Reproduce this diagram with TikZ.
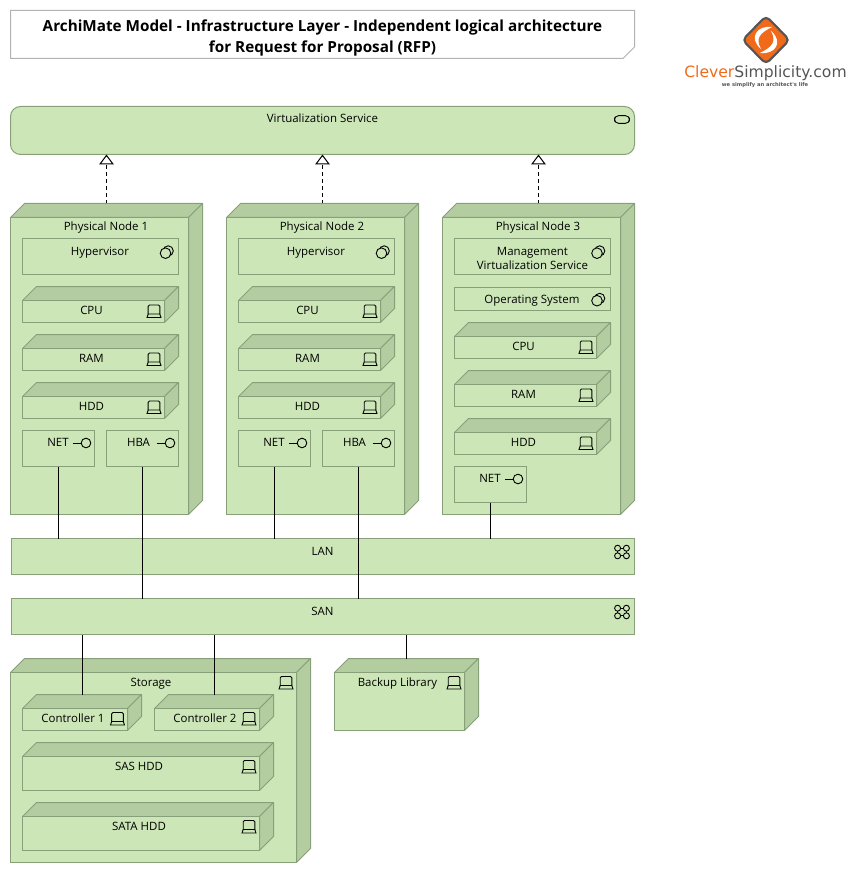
\documentclass[tikz,border=0pt]{standalone}
\usepackage{fontspec}
\setmainfont{Open Sans}
\newfontfamily\logofont{DejaVu Sans}
\usetikzlibrary{fit,arrows.meta}
\definecolor{amfill}{HTML}{CCE6B8}
\definecolor{amtop}{HTML}{B3CCA0}
\definecolor{amline}{HTML}{87A07A}
\definecolor{logoor}{HTML}{F06A1A}
\definecolor{logogr}{HTML}{555555}
\tikzset{
  face/.style={draw=amline,fill=amfill,line width=0.75pt,inner sep=0pt,outer sep=0pt},
  ghost/.style={inner sep=0pt,outer sep=0pt},
  side/.style={draw=amline,fill=amtop,line width=0.75pt,line join=round},
  lab/.style={inner sep=0pt,outer sep=0pt,font=\fontsize{8.6}{10.5}\selectfont,text=black,align=center},
  lab1/.style={lab,text height=6.4pt,text depth=0pt},
  icon/.style={draw=black,line width=0.68pt,fill=none},
  wire/.style={draw=black,line width=0.75pt},
  real/.style={draw=black,line width=0.75pt,dash pattern=on 2.6pt off 2.6pt,
    -{Triangle[open,length=7.5pt,width=11pt,fill=white]}},
  pics/laptop/.style={code={
    \draw[icon,rounded corners=0.9pt] (-5.8,3) -- (-5.8,-6) -- (5.8,-6) -- (5.8,3);
    \draw[icon] (-5.8,3) -- (5.8,3) -- (7,6.5) -- (-7,6.5) -- cycle;
  }},
  pics/syssw/.style={code={
    \draw[icon] (1.7,-1.6) circle (5.1);
    \draw[icon,fill=amfill] (-1,0.7) circle (5.3);
  }},
  pics/iface/.style={code={
    \draw[icon] (-13,0) -- (-5,0);
    \draw[icon] (0,0) circle (4.8);
  }},
  pics/svc/.style={code={
    \draw[icon,rounded corners=3pt] (-7.5,-3.8) rectangle (7.5,3.8);
  }},
  pics/netw/.style={code={
    \draw[icon] (-4.4,-3.8) -- (4.4,-3.8) -- (4.4,3.8) -- (-4.4,3.8) -- cycle;
    \foreach \a/\b in {-4.4/-3.8,4.4/-3.8,-4.4/3.8,4.4/3.8}
      \draw[icon,fill=amfill] (\a,\b) circle (3);
  }},
}
% name, x0, ytop, x1, ybot, depth : 3-D ArchiMate block
\newcommand{\block}[6]{%
  \pgfmathsetmacro{\xa}{#2+0.5}\pgfmathsetmacro{\ya}{#3+0.5}%
  \pgfmathsetmacro{\xb}{#4-0.5}\pgfmathsetmacro{\yb}{#5-0.5}%
  \pgfmathsetmacro{\xf}{\xb-#6}\pgfmathsetmacro{\yf}{\ya+#6}%
  \draw[side] (\xa,\yf) -- (\xa+#6,\ya) -- (\xb,\ya) -- (\xf,\yf) -- cycle;
  \draw[side] (\xf,\yf) -- (\xb,\ya) -- (\xb,\yb-#6) -- (\xf,\yb) -- cycle;
  \node[face,fit={(\xa,\yf)(\xf,\yb)}] (#1) {};
  \node[ghost,fit={(\xa,\ya)(\xb,\yb)}] (#1o) {};
}
\newcommand{\plain}[5]{\node[face,fit={(#2+0.5,#3+0.5)(#4-0.5,#5-0.5)}] (#1) {};}
\newcommand{\txt}[4]{\node[lab1] (#1l) at (#2,#3) {#4};}
\begin{document}
\begin{tikzpicture}[x=0.75pt,y=-0.75pt]
\path[use as bounding box] (0,0) rectangle (861,873);

% title
\draw[draw=black!30,fill=white,line width=0.75pt] (10.5,10.5) -- (634.5,10.5) -- (634.5,47) -- (623,58.5) -- (10.5,58.5) -- cycle;
\node[inner sep=0pt,font=\fontsize{11.45}{15.75}\selectfont\bfseries,align=center] (title) at (322.5,38)
  {ArchiMate Model - Infrastructure Layer - Independent logical architecture\\for Request for Proposal (RFP)};

% logo
\draw[draw=logogr,fill=logoor,line width=1.6pt,rounded corners=3.5pt] (766,16) -- (789.5,40) -- (766,64) -- (742.5,40) -- cycle;
\fill[white] (772,27) .. controls (757,25) and (748,38) .. (761,49) .. controls (755,38) and (760,33) .. (772,27) -- cycle;
\fill[white] (760,53) .. controls (775,55) and (784,42) .. (771,31) .. controls (777,42) and (772,47) .. (760,53) -- cycle;
\node[inner sep=0pt,font=\logofont\fontsize{11.7}{14}\selectfont] (logotext) at (765.5,73)
  {\textcolor{logoor}{Clever}\textcolor{logogr}{Simplicity.com}};
\node[inner sep=0pt,font=\logofont\bfseries\fontsize{3.9}{6}\selectfont,text=logogr] (logotag) at (765,85.5) {we simplify an architect's life};

% service
\node[face,rounded corners=7.5pt,fit={(10.5,106.5)(634.5,154.5)}] (svc) {};
\txt{svc}{322.5}{118.5}{Virtualization Service}
\pic at (622,119.5) {svc};

% physical nodes 1, 2
\foreach \n/\o in {1/0,2/216}{
  \block{pn\n}{10+\o}{203}{203+\o}{515}{14}
  \txt{pn\n}{106+\o}{226}{Physical Node \n}
  \plain{hv\n}{22+\o}{238}{179+\o}{275}
  \txt{hv\n}{100+\o}{251}{Hypervisor}
  \pic at (166.5+\o,252.5) {syssw};
  \foreach \nm/\y in {CPU/286,RAM/334,HDD/382}{
    \block{\nm\n}{22+\o}{\y}{179+\o}{\y+37}{14}
    \txt{\nm\n}{91.5+\o}{\y+24}{\nm}
    \pic at (154+\o,\y+25) {laptop};
  }
  \plain{net\n}{22+\o}{430}{95+\o}{467}
  \txt{net\n}{58+\o}{442}{NET}
  \pic at (86+\o,443) {iface};
  \plain{hba\n}{106+\o}{430}{179+\o}{467}
  \txt{hba\n}{138.5+\o}{442}{HBA}
  \pic at (170+\o,443) {iface};
}

% physical node 3
\block{pn3}{442}{203}{635}{515}{14}
\txt{pn3}{538}{226}{Physical Node 3}
\plain{mgmt}{454}{238}{611}{275}
\node[lab] (mgmtl) at (532.5,258) {Management\\Virtualization Service};
\pic at (598,252.5) {syssw};
\plain{os}{454}{287}{611}{311}
\txt{os}{532}{299}{Operating System}
\pic at (598,300) {syssw};
\foreach \nm/\y in {CPU/322,RAM/370,HDD/418}{
  \block{\nm3}{454}{\y}{611}{\y+37}{14}
  \txt{\nm3}{523.5}{\y+24}{\nm}
  \pic at (586,\y+25) {laptop};
}
\plain{net3}{454}{466}{527}{503}
\txt{net3}{490}{478.5}{NET}
\pic at (518,479) {iface};

% networks
\plain{lan}{11}{538}{635}{575}
\txt{lan}{322.5}{551}{LAN}
\pic at (622,552) {netw};
\plain{san}{11}{598}{635}{635}
\txt{san}{322.5}{611}{SAN}
\pic at (622,612) {netw};

% storage
\block{stor}{10}{658}{311}{863}{14}
\txt{stor}{151}{682}{Storage}
\pic at (286,682.5) {laptop};
\block{ctla}{22}{694}{142}{731}{14}
\txt{ctla}{73}{718}{Controller 1}
\pic at (117.5,718.5) {laptop};
\block{ctlb}{154}{694}{274}{731}{14}
\txt{ctlb}{205}{718}{Controller 2}
\pic at (249,718.5) {laptop};
\block{sas}{22}{742}{274}{791}{14}
\txt{sas}{139}{766}{SAS HDD}
\pic at (249,766.5) {laptop};
\block{sata}{22}{802}{274}{851}{14}
\txt{sata}{139}{826}{SATA HDD}
\pic at (249,826.5) {laptop};
\block{bak}{334}{658}{479}{731}{14}
\txt{bak}{397.5}{682}{Backup Library}
\pic at (454,682.5) {laptop};

% connectors
\foreach \a in {1,2,3}
  \draw[real] (pn\a o.north) -- (pn\a o.north |- svc.south);
\foreach \a in {net1,net2,net3}
  \draw[wire] (\a.south) -- (\a.south |- lan.north);
\foreach \a in {hba1,hba2}
  \draw[wire] (\a.south) -- (\a.south |- san.north);
\foreach \a in {ctlao,ctlbo}
  \draw[wire,xshift=0.375pt] (\a.north) -- (\a.north |- san.south);
\draw[wire] (bako.north) -- (bako.north |- san.south);
\end{tikzpicture}
\end{document}
